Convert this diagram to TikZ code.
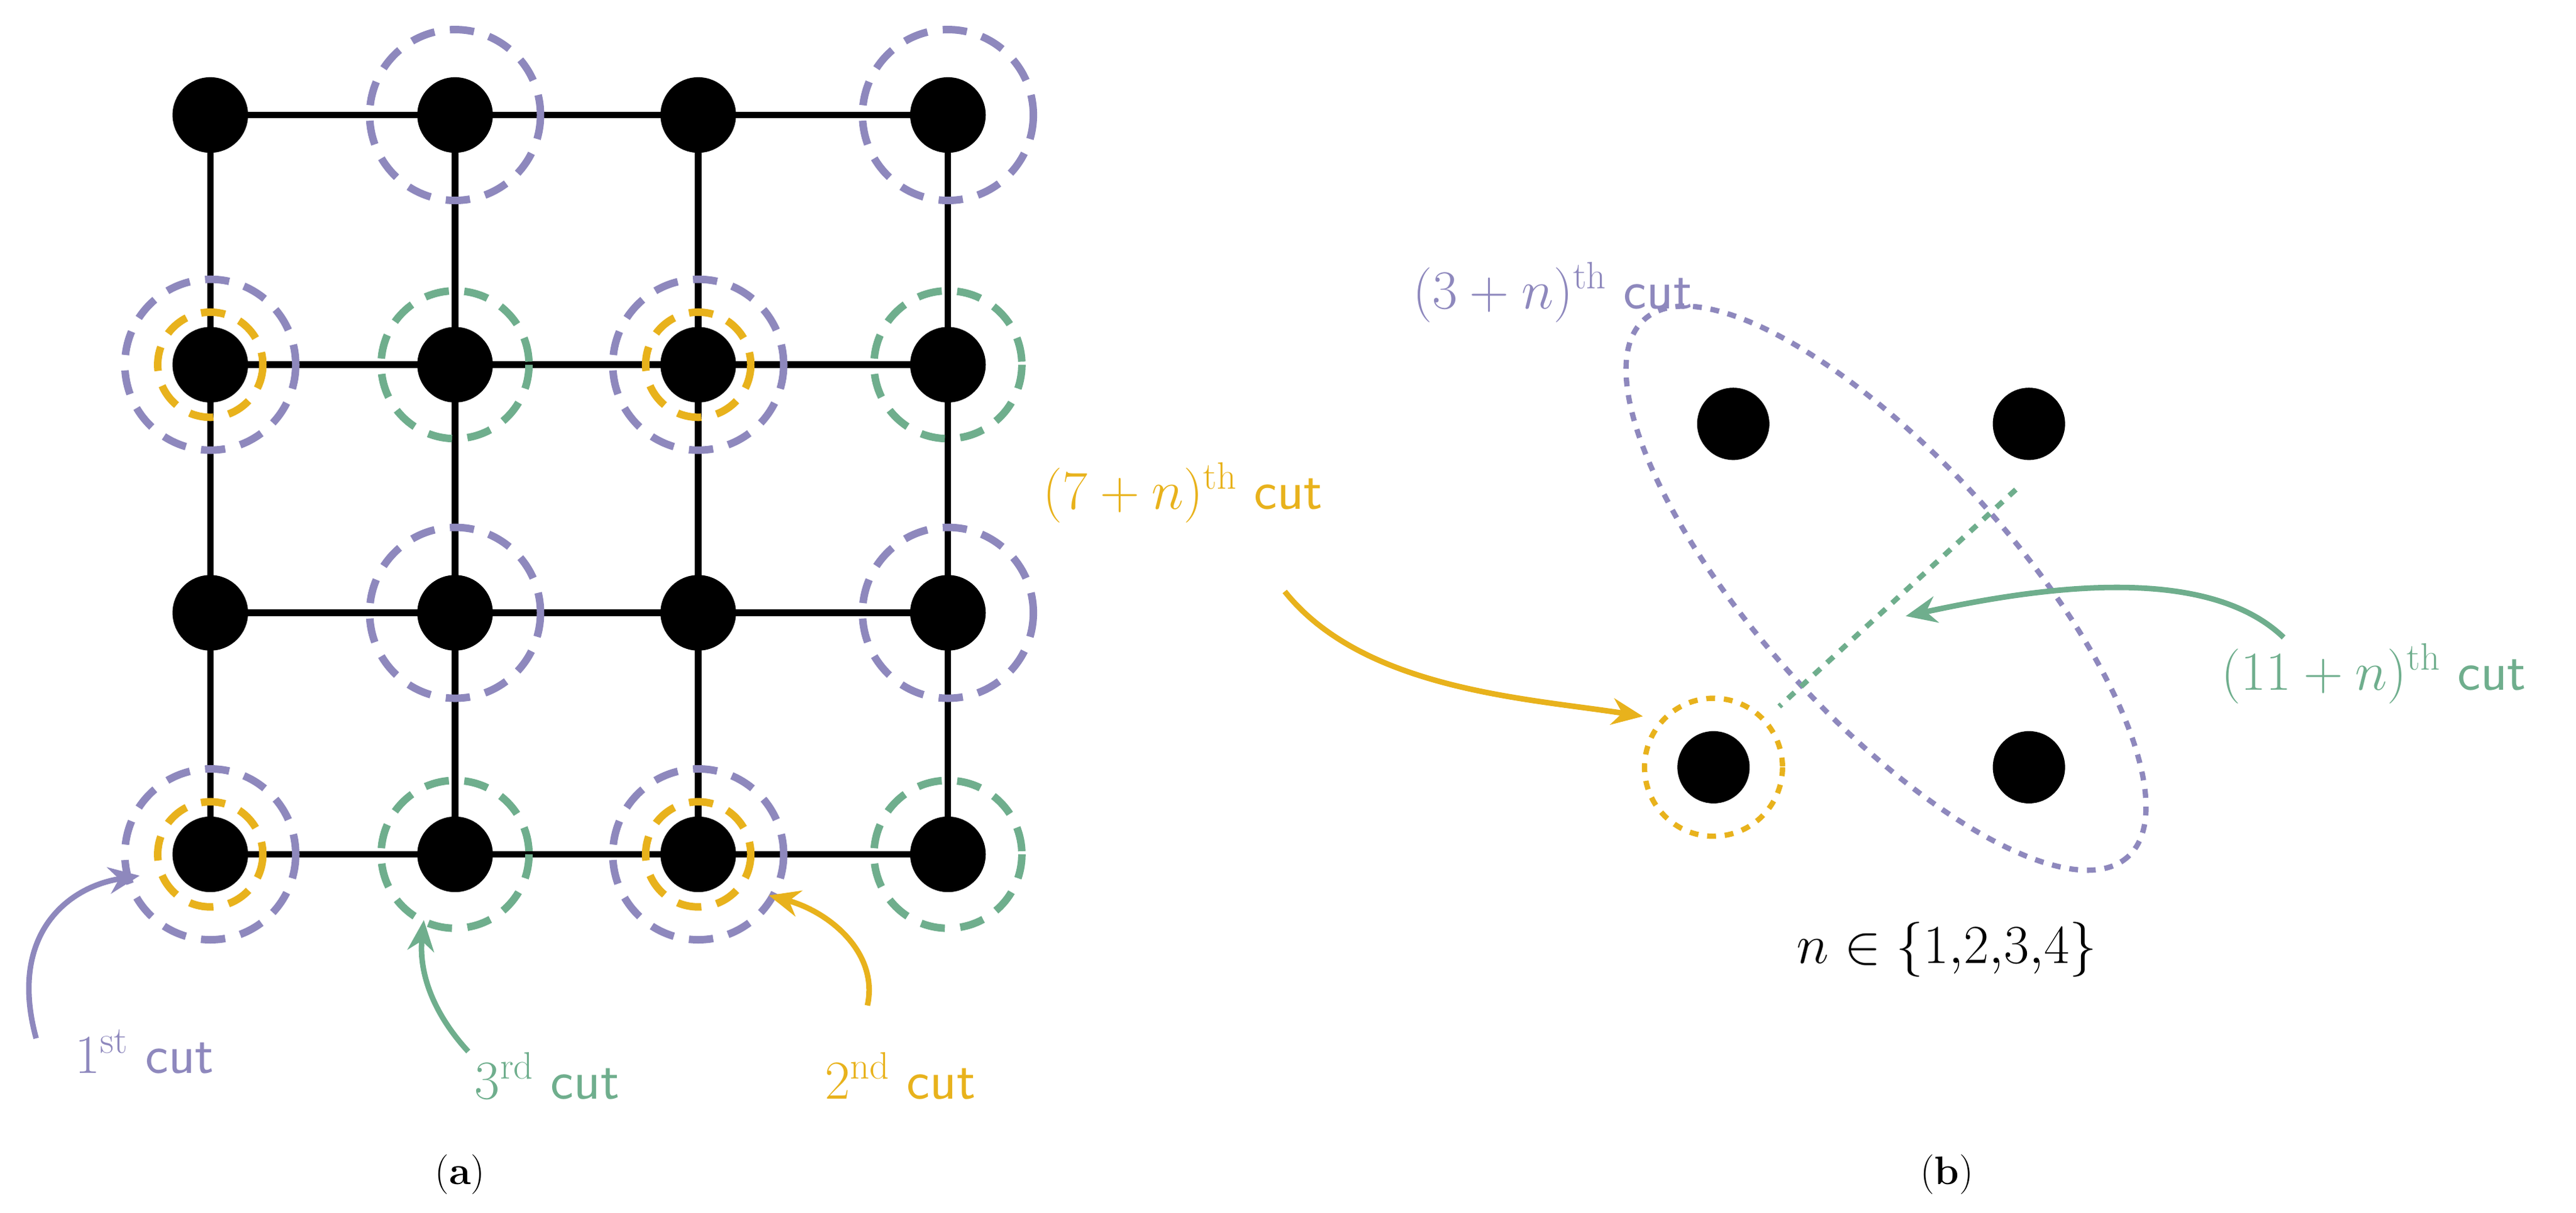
\documentclass[tikz,border=0pt]{standalone}
\usetikzlibrary{arrows.meta}
\definecolor{pur}{HTML}{8E88BD}
\definecolor{grn}{HTML}{6FAE8D}
\definecolor{org}{HTML}{E8B21C}
\begin{document}
\begin{tikzpicture}[x=0.02615cm,y=-0.02615cm,
  dot/.style={circle,fill=black,minimum size=46*0.02615cm,inner sep=0pt},
  dsh/.style={line width=3.4pt,dash pattern=on 11pt off 7pt},
  dtd/.style={line width=2.4pt,dash pattern=on 4pt off 4pt},
  lbl/.style={font=\fontsize{25}{29}\selectfont,inner sep=1pt},
  arr/.style={line width=2.5pt,-{Stealth[length=14pt,width=12pt]}}]
\useasboundingbox (0,0) rectangle (1568,738);
% grid
\foreach \x [count=\i] in {128,277,425,577}{
 \foreach \y [count=\j] in {70,222,373,520}{
  \coordinate (g\i\j) at (\x,\y);}}
\foreach \i in {1,2,3,4}{
 \draw[line width=3pt] (g\i1)--(g\i4);
 \draw[line width=3pt] (g1\i)--(g4\i);}
\foreach \i in {1,2,3,4}{\foreach \j in {1,2,3,4}{\node[dot] (d\i\j) at (g\i\j) {};}}
% circles
\foreach \c in {21,41,12,32,23,43,14,34}{\draw[dsh,pur] (g\c) circle (52);}
\foreach \c in {12,32,14,34}{\draw[dsh,org] (g\c) circle (32);}
\foreach \c in {22,42,24,44}{\draw[dsh,grn] (g\c) circle (45);}
% labels a
\node[lbl,pur] (c1) at (88,640) {$1^{\mathrm{st}}$ \textsf{cut}};
\node[lbl,grn] (c3) at (333,655) {$3^{\mathrm{rd}}$ \textsf{cut}};
\node[lbl,org] (c2) at (548,655) {$2^{\mathrm{nd}}$ \textsf{cut}};
\coordinate (a1) at (85,533);
\coordinate (a3) at (258,560);
\coordinate (a2) at (468,545);
\draw[arr,pur] (22,632) .. controls (5,570) and (40,540) .. (a1);
\draw[arr,grn] (285,640) .. controls (262,615) and (255,590) .. (a3);
\draw[arr,org] (528,612) .. controls (535,580) and (505,555) .. (a2);
\node[font=\fontsize{18}{22}\selectfont] (la) at (280,715) {(\textbf{a})};
% panel b
\node[dot,minimum size=44*0.02615cm] (b1) at (1055,258) {};
\node[dot,minimum size=44*0.02615cm] (b2) at (1235,258) {};
\node[dot,minimum size=44*0.02615cm] (b3) at (1043,467) {};
\node[dot,minimum size=44*0.02615cm] (b4) at (1235,467) {};
\draw[dtd,pur,rotate around={-48:(1148,358)}] (1148,358) ellipse (220 and 78);
\draw[dtd,org] (b3) circle (42);
\coordinate (gs) at (1227,298);
\coordinate (ge) at (1083,430);
\draw[dtd,grn] (gs)--(ge);
\node[lbl,pur] (t3) at (945,178) {$(3+n)^{\mathrm{th}}$ \textsf{cut}};
\node[lbl,org] (t7) at (720,300) {$(7+n)^{\mathrm{th}}$ \textsf{cut}};
\node[lbl,grn] (t11) at (1445,410) {$(11+n)^{\mathrm{th}}$ \textsf{cut}};
\coordinate (e7) at (1000,436);
\coordinate (e11) at (1160,375);
\draw[arr,org] (782,360) .. controls (830,420) and (930,425) .. (e7);
\draw[arr,grn] (1390,388) .. controls (1340,340) and (1230,360) .. (e11);
\node[lbl] (nn) at (1185,578) {$n\in\{1{,}2{,}3{,}4\}$};
\node[font=\fontsize{18}{22}\selectfont] (lb) at (1185,715) {(\textbf{b})};
\end{tikzpicture}
\end{document}
